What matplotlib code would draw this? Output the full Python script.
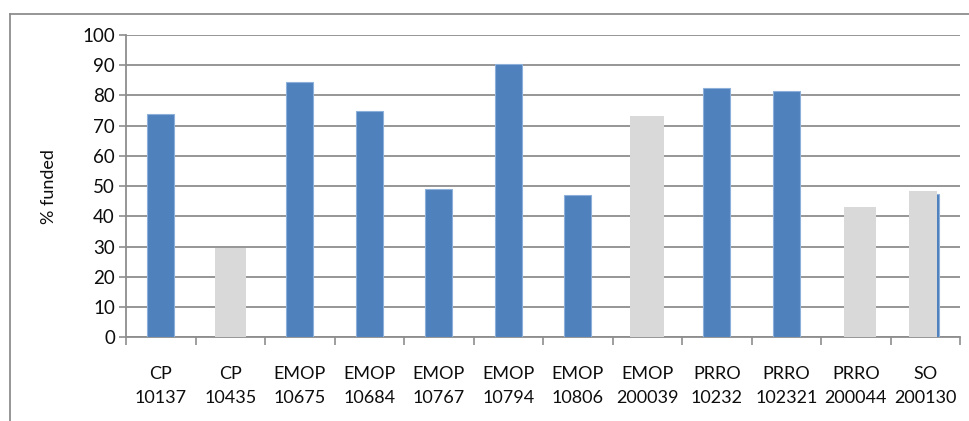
import matplotlib
matplotlib.use("Agg")
import matplotlib.pyplot as plt
from matplotlib.lines import Line2D
import numpy as np

# Programme categories (type + project number)
categories = ["CP\n10137", "CP\n10435", "EMOP\n10675", "EMOP\n10684", "EMOP\n10767",
              "EMOP\n10794", "EMOP\n10806", "EMOP\n200039", "PRRO\n10232",
              "PRRO\n102321", "PRRO\n200044", "SO\n200130"]

# % funded, blue series (None where no blue bar is shown)
funded_blue = [74, None, 84.5, 75, 49, 90.5, 47, None, 82.5, 81.5, None, 47.5]
# % funded, grey series (None where no grey bar is shown)
funded_grey = [None, 29.5, None, None, None, None, None, 73.2, None, None, 43.2, 48.4]

y_ticks = [0, 10, 20, 30, 40, 50, 60, 70, 80, 90, 100]

plt.rcParams["font.family"] = ["Lato", "DejaVu Sans"]

fig = plt.figure(figsize=(9.70, 4.21), dpi=100)
ax = fig.add_axes([0.1299, 0.1988, 0.8598, 0.7181])

x = np.arange(len(categories))
blue = "#4F81BD"
grey = "#D9D9D9"
grid_c = "#8E8E8E"
text_c = "#0d0d0d"
fs = 13

# grey bars sit slightly lower than the baseline on a couple of entries
grey_base = {1: -0.7, 10: -1.8}
grey_shift = {10: 0.06, 11: -0.03}
grey_width = {7: 0.49, 11: 0.41}

for i, v in enumerate(funded_blue):
    if v is None:
        continue
    ax.bar(x[i], v, width=0.39, color=blue, edgecolor="#8DB0DA",
           linewidth=0.8, zorder=3)

for i, v in enumerate(funded_grey):
    if v is None:
        continue
    b = grey_base.get(i, 0)
    ax.bar(x[i] + grey_shift.get(i, 0), v - b, bottom=b,
           width=grey_width.get(i, 0.45), color=grey, linewidth=0, zorder=4)

ax.set_xlim(-0.5, len(categories) - 0.5)
ax.set_ylim(0, 100)
ax.set_yticks(y_ticks)
ax.yaxis.grid(True, color=grid_c, linewidth=1.3, zorder=1)
ax.set_axisbelow(True)

ax.set_xticks(x)
ax.set_xticklabels(categories, fontsize=fs, linespacing=1.55, color=text_c)
ax.set_xticks(np.arange(len(categories) + 1) - 0.5, minor=True)
ax.tick_params(axis="x", which="major", length=0, pad=21)
ax.tick_params(axis="x", which="minor", length=6, width=1.2, color=grid_c)
ax.tick_params(axis="y", length=5, width=1.2, color=grid_c, labelsize=fs + 0.5,
               labelcolor=text_c, pad=3)

for s in ["top", "right"]:
    ax.spines[s].set_visible(False)
for s in ["left", "bottom"]:
    ax.spines[s].set_color(grid_c)
    ax.spines[s].set_linewidth(1.3)
ax.spines["bottom"].set_zorder(2)

ax.set_ylabel("% funded", fontsize=fs, color=text_c, labelpad=18)

# chart-area frame (top and left edges)
fig.add_artist(Line2D([10 / 970, 1.0], [1 - 14 / 421, 1 - 14 / 421],
                      transform=fig.transFigure, color="#8E8E8E", linewidth=1.3))
fig.add_artist(Line2D([10 / 970, 10 / 970], [0, 1 - 14 / 421],
                      transform=fig.transFigure, color="#8E8E8E", linewidth=1.3))

fig.savefig("out.png", dpi=100, facecolor="white")
